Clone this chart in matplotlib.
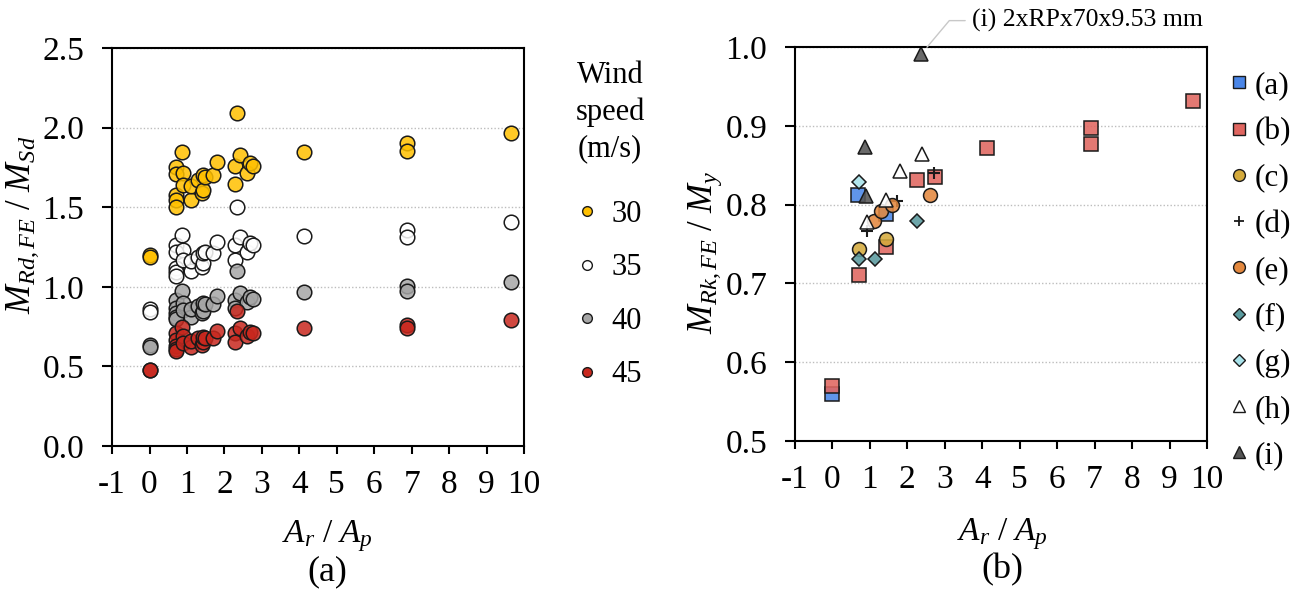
import matplotlib.pyplot as plt
from matplotlib.colors import to_rgba
from matplotlib.lines import Line2D

plt.rcParams['font.family'] = 'Liberation Serif'
plt.rcParams['mathtext.fontset'] = 'custom'
plt.rcParams['mathtext.rm'] = 'Liberation Serif'
plt.rcParams['mathtext.it'] = 'Liberation Serif:italic'
plt.rcParams['axes.unicode_minus'] = False

# ---------------------------------------------------------------
# (a) design ratio for each wind speed
# ---------------------------------------------------------------
ar_ap = [0, 0, 0.7, 0.7, 0.7, 0.7, 0.7, 0.87, 0.89, 0.89, 1.11, 1.11, 1.29,
         1.41, 1.43, 1.43, 1.47, 1.69, 1.8, 2.27, 2.27, 2.33, 2.41, 2.6,
         2.69, 2.76, 4.12, 6.88, 6.88, 9.64]
wind_speeds = ['30', '35', '40', '45']
ratio_30 = [1.20, 1.185, 1.75, 1.71, 1.575, 1.545, 1.50, 1.845, 1.715, 1.64,
            1.545, 1.633, 1.67, 1.59, 1.61, 1.70, 1.69, 1.70, 1.785, 1.76,
            1.645, 2.09, 1.83, 1.715, 1.775, 1.76, 1.845, 1.90, 1.85, 1.965]
ratio_35 = [0.86, 0.84, 1.26, 1.22, 1.115, 1.095, 1.07, 1.325, 1.23, 1.17,
            1.10, 1.165, 1.19, 1.125, 1.15, 1.21, 1.22, 1.215, 1.28, 1.26,
            1.17, 1.50, 1.31, 1.22, 1.275, 1.26, 1.32, 1.355, 1.315, 1.405]
ratio_40 = [0.635, 0.62, 0.92, 0.865, 0.833, 0.808, 0.796, 0.975, 0.90, 0.855,
            0.808, 0.86, 0.88, 0.833, 0.85, 0.90, 0.89, 0.89, 0.94, 0.917,
            0.865, 1.10, 0.96, 0.905, 0.935, 0.925, 0.97, 1.005, 0.975, 1.03]
ratio_45 = [0.48, 0.475, 0.71, 0.665, 0.625, 0.61, 0.595, 0.745, 0.69, 0.645,
            0.624, 0.66, 0.677, 0.635, 0.655, 0.687, 0.68, 0.68, 0.725, 0.708,
            0.655, 0.845, 0.74, 0.69, 0.718, 0.708, 0.74, 0.76, 0.74, 0.79]
wind_colors = ['#FFC000', '#FFFFFF', '#A6A6A6', '#C8281E']

# ---------------------------------------------------------------
# (b) characteristic ratio per section type
# ---------------------------------------------------------------
sec_labels = ['(a)', '(b)', '(c)', '(d)', '(e)', '(f)', '(g)', '(h)', '(i)']
sec_a_x = [0, 0.67, 1.44]
sec_a_y = [0.56, 0.812, 0.788]
sec_b_x = [0, 0.72, 1.43, 2.27, 2.74, 4.13, 6.9, 6.9, 9.63]
sec_b_y = [0.57, 0.711, 0.746, 0.831, 0.835, 0.872, 0.877, 0.897, 0.931]
sec_c_x = [0.7, 1.43]
sec_c_y = [0.744, 0.756]
sec_d_x = [0.93, 1.73, 2.7]
sec_d_y = [0.767, 0.804, 0.84]
sec_e_x = [1.1, 1.31, 1.6, 2.61]
sec_e_y = [0.779, 0.792, 0.80, 0.812]
sec_f_x = [0.7, 1.14, 2.27]
sec_f_y = [0.731, 0.731, 0.779]
sec_g_x = [0.7]
sec_g_y = [0.829]
sec_h_x = [0.93, 1.44, 1.81, 2.4]
sec_h_y = [0.778, 0.806, 0.843, 0.864]
sec_i_x = [0.88, 0.91, 2.37]
sec_i_y = [0.873, 0.811, 0.991]

# marker, size (pt), face colour
sec_styles = [
    ('s', 10, '#4A86E8'),
    ('s', 10, '#E06660'),
    ('o', 10, '#D4AA3C'),
    ('+', 9, 'none'),
    ('o', 10, '#E3883E'),
    ('D', 6.8, '#5A9A9E'),
    ('D', 6.8, '#A8E2EA'),
    ('^', 9.5, '#FFFFFF'),
    ('^', 9.5, '#555555'),
]
sec_x = [sec_a_x, sec_b_x, sec_c_x, sec_d_x, sec_e_x, sec_f_x, sec_g_x, sec_h_x, sec_i_x]
sec_y = [sec_a_y, sec_b_y, sec_c_y, sec_d_y, sec_e_y, sec_f_y, sec_g_y, sec_h_y, sec_i_y]

fig = plt.figure(figsize=(13.03, 5.9), dpi=100)
ax1 = fig.add_axes([0.0860, 0.2441, 0.3162, 0.6746])
ax2 = fig.add_axes([0.6101, 0.2525, 0.3162, 0.6678])


def style_axes(ax):
    for sp in ax.spines.values():
        sp.set_linewidth(1.5)
        sp.set_color('black')
    ax.tick_params(axis='x', direction='out', length=6, width=1.5, labelsize=24, pad=11)
    ax.tick_params(axis='y', direction='out', length=7, width=1.5, labelsize=24, pad=13)
    ax.yaxis.grid(True, linestyle=(0, (1, 1.5)), color='#BDBDBD', linewidth=1)
    ax.set_axisbelow(True)
    ax.set_xlim(-1, 10)
    ax.set_xticks(range(-1, 11))


# --- (a) ---
style_axes(ax1)
ax1.set_ylim(0, 2.5)
ax1.set_yticks([0, 0.5, 1.0, 1.5, 2.0, 2.5])
ax1.set_yticklabels([f'{v:.1f}' for v in ax1.get_yticks()])

for ratios, col in zip([ratio_30, ratio_35, ratio_40, ratio_45], wind_colors):
    ax1.plot(ar_ap, ratios, 'o', ms=10.5, mfc=to_rgba(col, 0.85), mec='#1A1A1A',
             mew=1.1, clip_on=False)

fig.text(610 / 1303, 1 - 61 / 590, 'Wind\nspeed\n(m/s)', fontsize=22,
         ha='center', va='top', linespacing=1.32)
wind_handles = [Line2D([], [], marker='o', ls='none', ms=7, mfc=c, mec='#1A1A1A', mew=1)
                for c in wind_colors]
fig.legend(wind_handles, wind_speeds, loc='upper left',
           bbox_to_anchor=(578 / 1303, 1 - 200 / 590), frameon=False, fontsize=22,
           handlelength=0.6, handletextpad=0.5, labelspacing=0.8, borderpad=0,
           borderaxespad=0)

fig.text(23 / 1303, 1 - 225 / 590, r'$M_{Rd,FE}\ /\ M_{Sd}$', fontsize=25,
         rotation=90, ha='center', va='center')
fig.text(327 / 1303, 1 - 542 / 590, r'$A_r\ /\ A_p$', fontsize=24,
         ha='center', va='baseline')
fig.text(327 / 1303, 1 - 572 / 590, '(a)', fontsize=26, ha='center', va='center')

# --- (b) ---
style_axes(ax2)
ax2.set_ylim(0.5, 1.0)
ax2.set_yticks([0.5, 0.6, 0.7, 0.8, 0.9, 1.0])
ax2.set_yticklabels([f'{v:.1f}' for v in ax2.get_yticks()])

sec_handles = []
for xs, ys, (mk, ms, col) in zip(sec_x, sec_y, sec_styles):
    if mk == '+':
        ax2.plot(xs, ys, mk, ms=ms, mec='#1A1A1A', mew=1.5, clip_on=False)
        h = Line2D([], [], marker=mk, ls='none', ms=ms * 0.85, mec='#1A1A1A', mew=1.3)
    else:
        ax2.plot(xs, ys, mk, ms=ms, mfc=to_rgba(col, 0.88), mec='#1A1A1A',
                 mew=1.1, clip_on=False)
        h = Line2D([], [], marker=mk, ls='none', ms=ms * 0.85, mfc=col,
                   mec='#1A1A1A', mew=1)
    sec_handles.append(h)

fig.legend(sec_handles, sec_labels, loc='upper left',
           bbox_to_anchor=(1230 / 1303, 1 - 71 / 590), frameon=False, fontsize=22.5,
           handlelength=0.6, handletextpad=0.2, labelspacing=0.55, borderpad=0,
           borderaxespad=0)

ax2.annotate('(i) 2xRPx70x9.53 mm', xy=(sec_i_x[2], sec_i_y[2]), xytext=(3.73, 1.0335),
             textcoords='data', fontsize=18.5, ha='left', va='center',
             annotation_clip=False,
             arrowprops=dict(arrowstyle='-', color='#C8C8C8', lw=1, shrinkA=3,
                             shrinkB=6.5, relpos=(0, 0.5),
                             connectionstyle='angle,angleA=0,angleB=50,rad=0'))

fig.text(705 / 1303, 1 - 252 / 590, r'$M_{Rk,FE}\ /\ M_y$', fontsize=25,
         rotation=90, ha='center', va='center')
fig.text(1002 / 1303, 1 - 540 / 590, r'$A_r\ /\ A_p$', fontsize=24,
         ha='center', va='baseline')
fig.text(1002 / 1303, 1 - 570 / 590, '(b)', fontsize=26, ha='center', va='center')

fig.savefig('out.png', dpi=100)
